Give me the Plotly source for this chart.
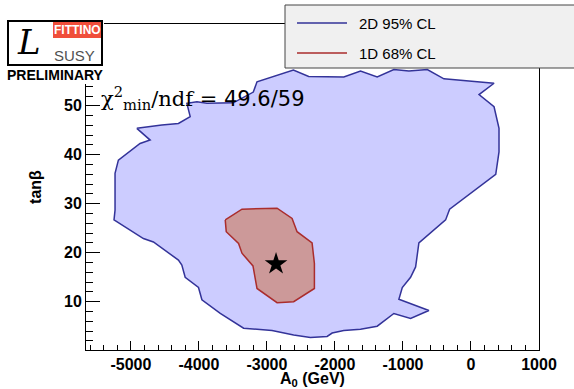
import plotly.graph_objects as go

# ---------------- data ----------------
# 2D 95% CL contour  (A0 in GeV, tan(beta))
cl95_a0 = [-4913, -4545, -4301, -4128, -4177, -4030, -3882, -3495, -3200, -3146,
           -2611, -2386, -1870, -1624, -1379, -1134, -913, -642, -398, 339,
           118, 339, 412, 412, 364, -314, -373, -569, -766, -814,
           -888, -1010, -1060, -619, -888, -1134, -1379, -1624, -1870, -2041,
           -2115, -2361, -2607, -2925, -3343, -3686, -3956, -4006, -4202, -4251,
           -4301, -4669, -4816, -5248, -5233, -5233, -5184, -4865, -4717, -4913]
cl95_tb = [45.4, 46.1, 46.4, 47.8, 50.5, 50.8, 50.5, 50.6, 52.8, 54.9,
           57.3, 56.0, 55.9, 57.1, 55.9, 57.4, 57.1, 57.4, 55.5, 54.6,
           52.3, 49.8, 45.4, 40.6, 36.0, 28.9, 26.7, 24.3, 22.0, 17.1,
           15.0, 12.9, 10.5, 8.2, 6.6, 7.6, 5.0, 4.4, 4.1, 3.6,
           2.9, 2.7, 3.2, 4.1, 4.6, 7.6, 10.4, 12.9, 15.0, 17.5,
           18.5, 22.2, 22.9, 26.7, 28.7, 36.2, 38.9, 42.3, 43.0, 45.4]

# 1D 68% CL contour
cl68_a0 = [-3613, -3367, -2851, -2630, -2557, -2336, -2302, -2302, -2607, -2851,
           -3146, -3205, -3367, -3417, -3598, -3613]
cl68_tb = [26.7, 28.9, 29.1, 27.0, 24.3, 22.0, 17.8, 12.7, 10.0, 9.8,
           12.7, 17.3, 19.9, 21.9, 24.3, 26.7]

# best-fit point
best_a0 = [-2866]
best_tb = [17.7]

x_tick_vals = [-5000, -4000, -3000, -2000, -1000, 0, 1000]
x_tick_text = ["-5000", "-4000", "-3000", "-2000", "-1000", "0", "1000"]
y_tick_vals = [10, 20, 30, 40, 50, 60]
y_tick_text = ["10", "20", "30", "40", "50", "60"]

legend_labels = ["2D 95% CL", "1D 68% CL"]
chi2_text = "49.6/59"

# ---------------- styling ----------------
W, H = 574, 389
L, R, T, B = 86, 35, 24, 39
PW, PH = W - L - R, H - T - B


def px(x):
    return (x - L) / PW


def py(y):
    return (H - B - y) / PH


BLUE_LINE = "rgb(51,51,153)"
BLUE_FILL = "rgb(204,204,255)"
RED_LINE = "rgb(170,45,45)"
RED_FILL = "rgb(204,153,153)"

fig = go.Figure()
fig.add_trace(go.Scatter(x=cl95_a0, y=cl95_tb, mode="lines", fill="toself",
                         fillcolor=BLUE_FILL, line=dict(color=BLUE_LINE, width=1.5),
                         name=legend_labels[0], showlegend=False))
fig.add_trace(go.Scatter(x=cl68_a0, y=cl68_tb, mode="lines", fill="toself",
                         fillcolor=RED_FILL, line=dict(color=RED_LINE, width=1.5),
                         name=legend_labels[1], showlegend=False))
fig.add_trace(go.Scatter(x=best_a0, y=best_tb, mode="markers",
                         marker=dict(symbol="star", size=17, color="black"),
                         showlegend=False, name="best fit"))

shapes = []
annotations = []

# legend box (manual, ROOT style)
shapes.append(dict(type="rect", xref="paper", yref="paper",
                   x0=px(285), x1=px(580), y0=py(68), y1=py(5),
                   fillcolor="#f0f0f0", line=dict(color="#444444", width=1), layer="above"))
for i, (lab, col) in enumerate(zip(legend_labels, [BLUE_LINE, RED_LINE])):
    yy = [23, 53][i]
    shapes.append(dict(type="line", xref="paper", yref="paper",
                       x0=px(297), x1=px(347), y0=py(yy), y1=py(yy),
                       line=dict(color=col, width=1.5), layer="above"))
    annotations.append(dict(text=lab, xref="paper", yref="paper", x=px(357), y=py(yy),
                            xanchor="left", yanchor="middle", showarrow=False,
                            font=dict(family="Liberation Sans", size=15, color="black")))

# Fittino logo
shapes.append(dict(type="rect", xref="paper", yref="paper",
                   x0=px(6), x1=px(104), y0=py(84), y1=py(19),
                   fillcolor="white", line=dict(width=0), layer="above"))
shapes.append(dict(type="rect", xref="paper", yref="paper",
                   x0=px(8), x1=px(102), y0=py(65), y1=py(21),
                   fillcolor="white", line=dict(color="black", width=2), layer="above"))
shapes.append(dict(type="rect", xref="paper", yref="paper",
                   x0=px(53), x1=px(101), y0=py(38), y1=py(22),
                   fillcolor="rgb(240,78,58)", line=dict(width=0), layer="above"))
annotations.append(dict(text="<b>FITTINO</b>", xref="paper", yref="paper", x=px(77), y=py(30),
                        xanchor="center", yanchor="middle", showarrow=False,
                        font=dict(family="Liberation Sans", size=12, color="white")))
annotations.append(dict(text="SUSY", xref="paper", yref="paper", x=px(74), y=py(55),
                        xanchor="center", yanchor="middle", showarrow=False,
                        font=dict(family="Liberation Sans", size=15, color="#505050")))
annotations.append(dict(text="<i>L</i>", xref="paper", yref="paper", x=px(29), y=py(42),
                        xanchor="center", yanchor="middle", showarrow=False,
                        font=dict(family="DejaVu Serif", size=34, color="black")))
annotations.append(dict(text="<b>PRELIMINARY</b>", xref="paper", yref="paper", x=px(55), y=py(75),
                        xanchor="center", yanchor="middle", showarrow=False,
                        font=dict(family="Liberation Sans", size=14, color="black")))

# chi2 text
annotations.append(dict(
    text="χ<sup>2</sup><sub>min</sub>/ndf = <span style='font-family:DejaVu Sans'>" + chi2_text + "</span>",
    xref="paper", yref="paper", x=px(99), y=py(98), xanchor="left", yanchor="middle",
    showarrow=False, font=dict(family="DejaVu Serif", size=21, color="black")))

axis_common = dict(showgrid=False, zeroline=False, showline=True, linecolor="black",
                   linewidth=1, mirror=True, ticks="inside", tickcolor="black",
                   tickfont=dict(family="Liberation Sans", size=16, color="black", weight=700))

fig.update_layout(
    width=W, height=H, margin=dict(l=L, r=R, t=T, b=B, autoexpand=False),
    paper_bgcolor="white", plot_bgcolor="white", showlegend=False,
    shapes=shapes, annotations=annotations,
    xaxis=dict(range=[-5660, 1000], tickmode="array", tickvals=x_tick_vals,
               ticktext=x_tick_text, ticklen=9,
               minor=dict(dtick=200, tick0=0, ticks="inside", ticklen=5, tickcolor="black"),
               title=dict(text="<b>A<sub>0</sub> (GeV)</b>", standoff=9,
                          font=dict(family="Liberation Sans", size=16, color="black")),
               **axis_common),
    yaxis=dict(range=[0.14, 66.7], tickmode="array", tickvals=y_tick_vals,
               ticktext=y_tick_text, ticklen=14,
               minor=dict(dtick=2, tick0=0, ticks="inside", ticklen=7, tickcolor="black"),
               title=dict(text="<b>tanβ</b>", standoff=18,
                          font=dict(family="Liberation Sans", size=16, color="black")),
               **axis_common),
)

fig.write_html("out.html")
